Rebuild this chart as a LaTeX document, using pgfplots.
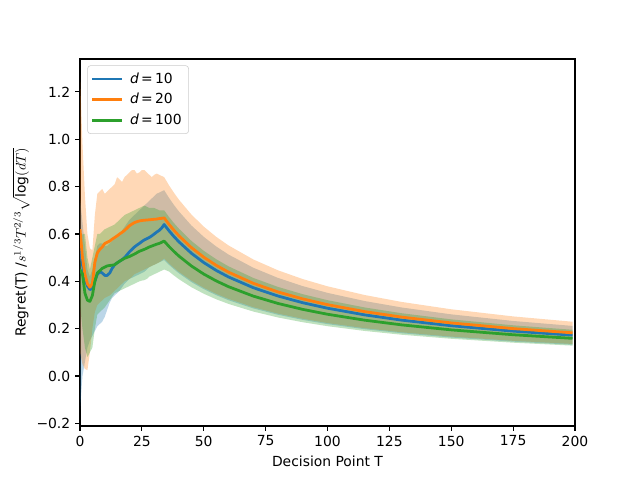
\documentclass[border=0pt]{standalone}
\usepackage{fontspec}
\setmainfont{DejaVu Sans}
\usepackage{pgfplots}
\pgfplotsset{compat=1.18}
\usepackage{pgfplotstable}
\usepgfplotslibrary{fillbetween}
\definecolor{c1}{HTML}{1F77B4}
\definecolor{c2}{HTML}{FF7F0E}
\definecolor{c3}{HTML}{2CA02C}
\pgfplotstableread{
T m lo hi
0 0.540 -0.14 0.75
1 0.470 0.00 0.65
2 0.410 0.06 0.55
3 0.380 0.12 0.45
4 0.365 0.15 0.42
5 0.370 0.17 0.45
6 0.400 0.19 0.50
7 0.430 0.21 0.55
8 0.440 0.22 0.56
9 0.435 0.23 0.56
10 0.425 0.25 0.55
11 0.425 0.28 0.55
12 0.435 0.31 0.56
13 0.455 0.33 0.57
14 0.470 0.34 0.58
15 0.478 0.35 0.59
16 0.485 0.36 0.60
17 0.492 0.375 0.615
18 0.500 0.39 0.63
19 0.512 0.40 0.645
20 0.525 0.41 0.66
21 0.535 0.415 0.67
22 0.545 0.42 0.68
23 0.553 0.425 0.69
24 0.560 0.43 0.70
25 0.568 0.435 0.71
26 0.575 0.44 0.72
27 0.580 0.45 0.73
28 0.585 0.46 0.74
29 0.592 0.465 0.75
30 0.600 0.47 0.76
31 0.608 0.475 0.77
32 0.615 0.48 0.775
33 0.625 0.485 0.78
34 0.640 0.49 0.785
36 0.6131 0.4694 0.7520
38 0.5887 0.4507 0.7220
40 0.5665 0.4337 0.6948
45 0.5186 0.3970 0.6361
50 0.4793 0.3670 0.5879
55 0.4463 0.3417 0.5475
60 0.4184 0.3203 0.5132
70 0.3731 0.2856 0.4576
80 0.3379 0.2587 0.4144
90 0.3096 0.2371 0.3798
100 0.2864 0.2193 0.3513
115 0.2583 0.1978 0.3168
130 0.2360 0.1807 0.2895
150 0.2124 0.1626 0.2605
175 0.1896 0.1452 0.2326
199 0.1726 0.1322 0.2117
}\tblA
\pgfplotstableread{
T m lo hi
0 0.620 0.10 1.27
1 0.500 0.05 0.98
2 0.430 0.03 0.76
3 0.390 0.025 0.60
4 0.375 0.10 0.54
5 0.390 0.20 0.53
6 0.480 0.27 0.68
7 0.520 0.30 0.77
8 0.535 0.31 0.78
9 0.545 0.32 0.79
10 0.560 0.33 0.77
11 0.565 0.335 0.78
12 0.570 0.34 0.79
13 0.578 0.35 0.80
14 0.585 0.36 0.81
15 0.592 0.37 0.84
16 0.600 0.38 0.83
17 0.607 0.39 0.82
18 0.615 0.40 0.84
19 0.625 0.405 0.85
20 0.635 0.41 0.86
21 0.642 0.42 0.87
22 0.648 0.43 0.87
23 0.652 0.435 0.855
24 0.655 0.44 0.86
25 0.657 0.445 0.87
26 0.658 0.45 0.87
27 0.659 0.455 0.86
28 0.660 0.46 0.85
29 0.661 0.465 0.84
30 0.662 0.47 0.85
31 0.663 0.475 0.855
32 0.665 0.48 0.85
33 0.666 0.488 0.845
34 0.668 0.496 0.84
36 0.6403 0.4754 0.8051
38 0.6150 0.4567 0.7734
40 0.5920 0.4396 0.7445
45 0.5426 0.4029 0.6823
50 0.5019 0.3727 0.6312
55 0.4677 0.3473 0.5882
60 0.4387 0.3258 0.5517
70 0.3916 0.2908 0.4925
80 0.3550 0.2636 0.4465
90 0.3257 0.2418 0.4095
100 0.3014 0.2238 0.3790
115 0.2721 0.2021 0.3422
130 0.2488 0.1848 0.3129
150 0.2242 0.1665 0.2819
175 0.2003 0.1487 0.2518
199 0.1824 0.1355 0.2294
}\tblB
\pgfplotstableread{
T m lo hi
0 0.450 0.30 0.55
1 0.430 0.20 0.60
2 0.350 0.12 0.60
3 0.320 0.08 0.50
4 0.315 0.10 0.45
5 0.340 0.12 0.50
6 0.400 0.20 0.55
7 0.435 0.26 0.60
8 0.445 0.27 0.60
9 0.455 0.28 0.61
10 0.460 0.29 0.62
11 0.465 0.305 0.625
12 0.467 0.32 0.63
13 0.468 0.335 0.635
14 0.470 0.35 0.64
15 0.478 0.355 0.65
16 0.485 0.36 0.66
17 0.491 0.365 0.67
18 0.497 0.37 0.68
19 0.501 0.375 0.685
20 0.505 0.38 0.69
21 0.510 0.385 0.695
22 0.515 0.39 0.70
23 0.521 0.395 0.705
24 0.527 0.40 0.71
25 0.531 0.403 0.715
26 0.535 0.405 0.72
27 0.540 0.41 0.715
28 0.545 0.42 0.71
29 0.549 0.425 0.71
30 0.553 0.43 0.71
31 0.557 0.435 0.705
32 0.560 0.44 0.70
33 0.565 0.445 0.70
34 0.570 0.45 0.70
36 0.5467 0.4412 0.6714
38 0.5257 0.4242 0.6455
40 0.5064 0.4087 0.6220
45 0.4649 0.3752 0.5709
50 0.4307 0.3476 0.5289
55 0.4019 0.3243 0.4936
60 0.3774 0.3046 0.4635
70 0.3376 0.2724 0.4145
80 0.3065 0.2473 0.3764
90 0.2815 0.2272 0.3457
100 0.2609 0.2105 0.3204
115 0.2359 0.1904 0.2897
130 0.2160 0.1743 0.2652
150 0.1949 0.1573 0.2393
175 0.1744 0.1408 0.2142
199 0.1591 0.1284 0.1954
}\tblC
\newcommand{\eqsp}{\hspace{1.6pt}=\hspace{1.6pt}}
\begin{document}
\begin{tikzpicture}
\begin{axis}[
  scale only axis,
  width=356.4pt, height=264.2pt,
  xmin=0, xmax=200, ymin=-0.211, ymax=1.339,
  xtick={0,25,50,75,100,125,150,175,200},
  ytick={-0.2,0,0.2,0.4,0.6,0.8,1.0,1.2},
  yticklabels={−0.2,0.0,0.2,0.4,0.6,0.8,1.0,1.2},
  xtick pos=lower, ytick pos=left,
  tick align=outside,
  major tick length=3.5pt,
  every tick/.style={black, line width=0.8pt},
  axis line style={line width=0.8pt},
  /pgf/number format/assume math mode=true,
  tick label style={font=\fontsize{10}{12}\selectfont},
  label style={font=\fontsize{10}{12}\selectfont},
  xlabel={Decision Point T},
  ylabel={Regret(T) /$s^{1/3}T^{2/3}\sqrt{\log(dT)}$},
  xlabel style={yshift=0pt},
  ylabel style={yshift=-2pt},
  legend cell align=left,
  legend style={at={(0,1)}, anchor=north west, xshift=5.3pt, yshift=-4.6pt,
    draw=black!20, rounded corners=2pt, fill=white, fill opacity=0.8, text opacity=1,
    font=\fontsize{10}{12}\selectfont, row sep=1.8pt, inner xsep=3pt, inner ysep=3pt,
    /tikz/every even column/.append style={column sep=4pt}},
  legend image code/.code={\draw[#1, line cap=rect] (0pt,0pt) -- (20pt,0pt);},
]
\addplot[name path=Ahi, draw=none, forget plot] table[x=T, y=hi] {\tblA};
\addplot[name path=Alo, draw=none, forget plot] table[x=T, y=lo] {\tblA};
\addplot[c1, fill=c1, fill opacity=0.3, draw=none, forget plot] fill between[of=Ahi and Alo];
\addplot[name path=Bhi, draw=none, forget plot] table[x=T, y=hi] {\tblB};
\addplot[name path=Blo, draw=none, forget plot] table[x=T, y=lo] {\tblB};
\addplot[c2, fill=c2, fill opacity=0.3, draw=none, forget plot] fill between[of=Bhi and Blo];
\addplot[name path=Chi, draw=none, forget plot] table[x=T, y=hi] {\tblC};
\addplot[name path=Clo, draw=none, forget plot] table[x=T, y=lo] {\tblC};
\addplot[c3, fill=c3, fill opacity=0.3, draw=none, forget plot] fill between[of=Chi and Clo];
\addplot[c1, line width=2pt, line join=round] table[x=T, y=m] {\tblA};
\addlegendentry{\hspace{3.6pt}\textit{d}\eqsp10}
\addplot[c2, line width=2pt, line join=round] table[x=T, y=m] {\tblB};
\addlegendentry{\hspace{3.6pt}\textit{d}\eqsp20}
\addplot[c3, line width=2pt, line join=round] table[x=T, y=m] {\tblC};
\addlegendentry{\hspace{3.6pt}\textit{d}\eqsp100}
\end{axis}
\pgfresetboundingbox
\useasboundingbox (-57.6pt,-38.9pt) rectangle (403.2pt,306.7pt);
\end{tikzpicture}
\end{document}
